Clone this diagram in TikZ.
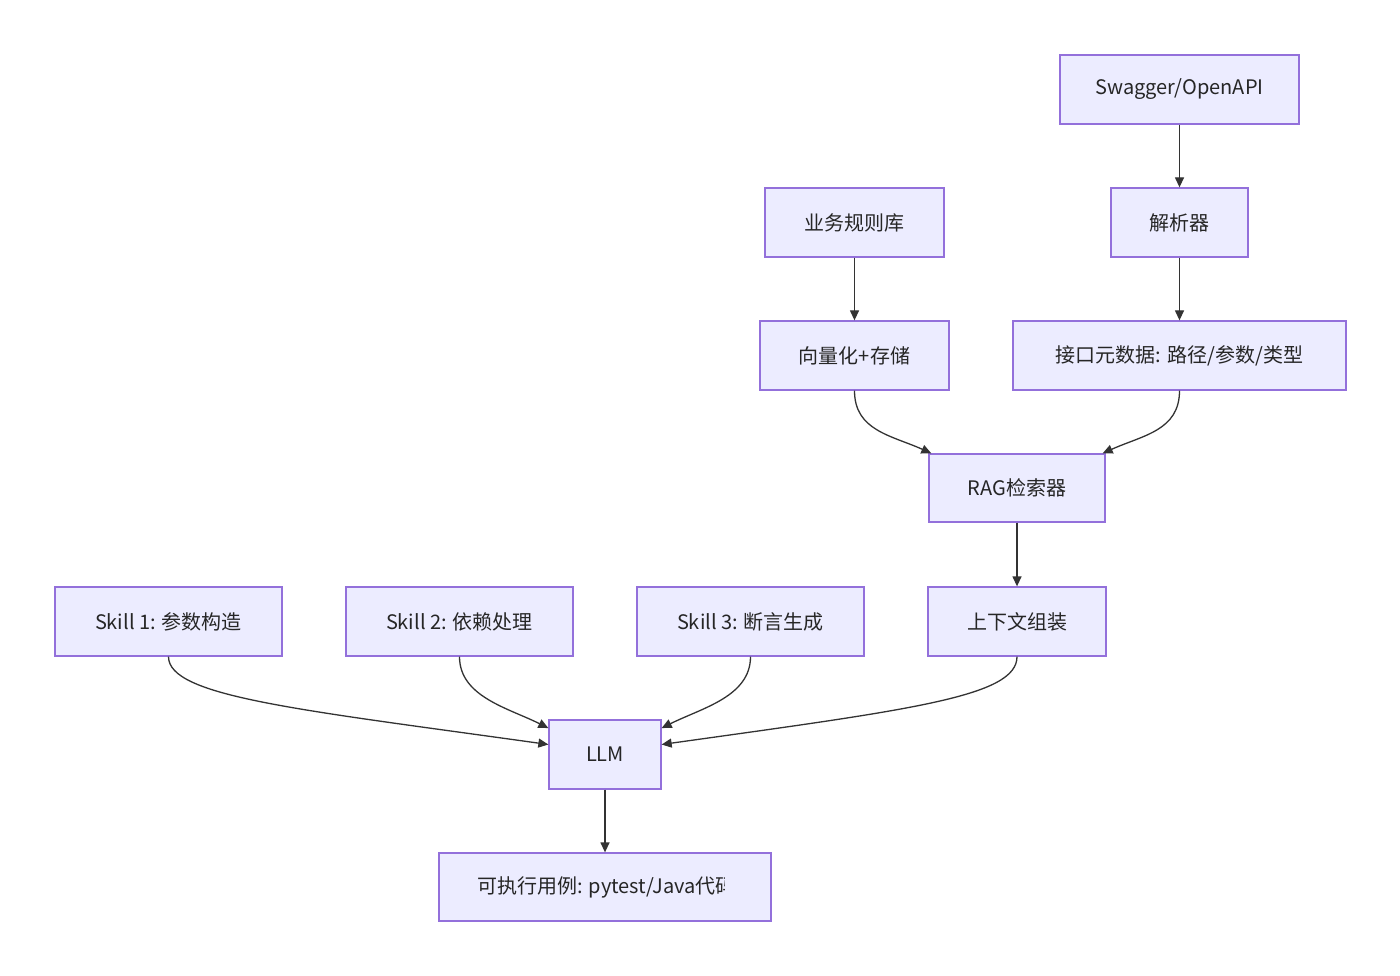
\documentclass[tikz,border=0pt]{standalone}
\usepackage{fontspec}
\setmainfont{Noto Sans CJK SC}
\usetikzlibrary{arrows.meta,calc}
\definecolor{boxfill}{HTML}{ECECFF}
\definecolor{boxline}{HTML}{9370DB}
\definecolor{edgecol}{HTML}{333333}
\begin{document}
\begin{tikzpicture}[x=1pt,y=1pt,
  box/.style={draw=boxline,fill=boxfill,line width=1.3pt,inner sep=0pt,
    minimum height=69pt,text=black!85,font=\fontsize{20}{24}\selectfont},
  edge/.style={draw=edgecol,line width=1.3pt,-{Triangle[length=10pt,width=9pt]}}]
\useasboundingbox (0,0) rectangle (1400,-976);
\fill[white] (0,0) rectangle (1400,-976);
\node[box,minimum width=239pt] (swag) at (1179.5,-89.5) {Swagger/OpenAPI};
\node[box,minimum width=137pt] (parse) at (1179.5,-222.5) {解析器};
\node[box,minimum width=179pt] (rules) at (854.5,-222.5) {业务规则库};
\node[box,minimum width=189pt] (vec) at (854.5,-355.5) {向量化+存储};
\node[box,minimum width=333pt] (meta) at (1179.5,-355.5) {接口元数据: 路径/参数/类型};
\node[box,minimum width=176pt,minimum height=68pt] (rag) at (1017,-488) {RAG检索器};
\node[box,minimum width=178pt] (ctx) at (1017,-621.5) {上下文组装};
\node[box,minimum width=227pt] (s1) at (168.5,-621.5) {Skill 1: 参数构造};
\node[box,minimum width=227pt] (s2) at (459.5,-621.5) {Skill 2: 依赖处理};
\node[box,minimum width=227pt] (s3) at (750.5,-621.5) {Skill 3: 断言生成};
\node[box,minimum width=112pt] (llm) at (605,-754.5) {LLM};
\node[box,minimum width=332pt,minimum height=68pt] (out) at (605,-887) {};
\begin{scope}
  \clip (439,-853) rectangle (724,-921);
  \node[anchor=west,inner sep=0pt,text=black!85,font=\fontsize{20}{24}\selectfont] (outtxt) at (477,-887) {可执行用例: pytest/Java代码};
\end{scope}
\draw[edge] (swag) -- (parse);
\draw[edge] (rules) -- (vec);
\draw[edge] (parse) -- (meta);
\draw[edge] (vec.south) .. controls +(0,-40) and +(-40,18) .. ($(rag.north west)+(3,0)$);
\draw[edge] (meta.south) .. controls +(0,-40) and +(40,18) .. ($(rag.north east)+(-3,0)$);
\draw[edge] (rag) -- (ctx);
\draw[edge] (s1.south) .. controls +(0,-40) and +(-250,35) .. (llm.170);
\draw[edge] (s2.south) .. controls +(0,-40) and +(-40,20) .. (llm.155);
\draw[edge] (s3.south) .. controls +(0,-40) and +(40,20) .. (llm.25);
\draw[edge] (ctx.south) .. controls +(0,-40) and +(250,35) .. (llm.10);
\draw[edge] (llm) -- (out);
\end{tikzpicture}
\end{document}
